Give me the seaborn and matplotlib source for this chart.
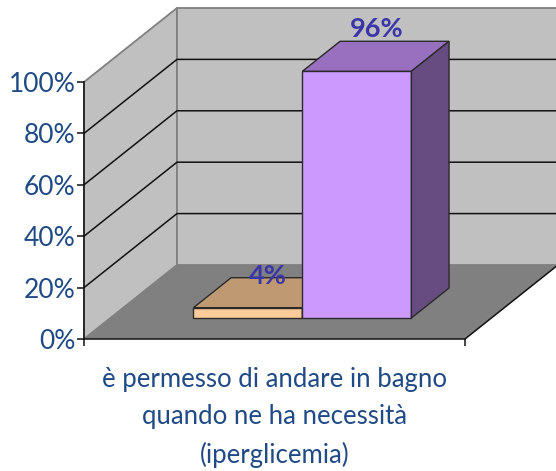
# -*- coding: utf-8 -*-

import matplotlib.pyplot as plt
import pandas as pd
import seaborn as sns
from matplotlib.patches import Polygon

CATEGORY = 'è permesso di andare in bagno\nquando ne ha necessità\n(iperglicemia)'
SERIES = ['no', 'sì']
VALUES = [4, 96]
VALUE_LABELS = ['4%', '96%']
Y_TICKS = [0, 20, 40, 60, 80, 100]

FRONT_COLORS = ['#FFCC99', '#CC99FF']
TOP_COLORS = ['#BF9972', '#9970BF']
SIDE_COLORS = ['#806650', '#664C80']
TEXT_COLOR = '#1F4A85'
LABEL_COLOR = '#3A36A8'
EDGE = '#2A2A2A'

# 3d look, all in data units of the axes
DEPTH_X = 0.244
DEPTH_Y = 28.8
BAR_START = 0.284
BAR_NUDGE = 0.004
BAR_DEPTH = 0.405
LABEL_LIFT = [1, 9]

sns.set_style('white')
plt.rcParams['font.family'] = ['Lato', 'DejaVu Sans']


def add_face(ax, points, color, edge, zorder, lw=1.0):
    ax.add_patch(Polygon(points, closed=True, facecolor=color, edgecolor=edge,
                         lw=lw, zorder=zorder, clip_on=False))


def make_plot():
    df = pd.DataFrame({'category': [CATEGORY] * len(VALUES), 'series': SERIES, 'value': VALUES})

    fig = plt.figure(figsize=(5.56, 4.71), dpi=100)
    ax = fig.add_axes([84 / 556, (471 - 339) / 471, 381 / 556, 257 / 471])
    ax.set_facecolor('none')

    sns.barplot(data=df, x='category', y='value', hue='series', palette=FRONT_COLORS, saturation=1,
                width=0.572, gap=0, legend=False, ax=ax)
    ax.set_xlim(-0.5, 0.5)
    ax.set_ylim(0, 100)

    x0, x1 = -0.5, 0.5
    # walls and floor
    add_face(ax, [(x0, 0), (x0, 100), (x0 + DEPTH_X, 100 + DEPTH_Y), (x0 + DEPTH_X, DEPTH_Y)], '#C0C0C0', '#808080', 0.5, 1.3)
    add_face(ax, [(x0 + DEPTH_X, DEPTH_Y), (x0 + DEPTH_X, 100 + DEPTH_Y), (x1 + DEPTH_X, 100 + DEPTH_Y), (x1 + DEPTH_X, DEPTH_Y)],
             '#C0C0C0', '#808080', 0.5, 1.3)
    add_face(ax, [(x0, 0), (x1, 0), (x1 + DEPTH_X, DEPTH_Y), (x0 + DEPTH_X, DEPTH_Y)], '#808080', 'none', 0.6)
    ax.plot([x1, x1 + DEPTH_X], [0, DEPTH_Y], color='#111111', lw=1.1, zorder=0.7, clip_on=False)

    # gridlines run over the side wall and the back wall
    for tick in Y_TICKS[1:-1]:
        ax.plot([x0, x0 + DEPTH_X, x1 + DEPTH_X], [tick, tick + DEPTH_Y, tick + DEPTH_Y],
                color='#111111', lw=1.1, zorder=0.8, clip_on=False)

    # bars: push the seaborn bars into the floor, then add top and side faces
    dx = DEPTH_X * BAR_START + BAR_NUDGE
    dy = DEPTH_Y * BAR_START
    back_x = DEPTH_X * BAR_DEPTH
    back_y = DEPTH_Y * BAR_DEPTH
    for i, bar in enumerate(ax.patches[:len(VALUES)]):
        bar.set_x(bar.get_x() + dx)
        bar.set_y(dy)
        bar.set_edgecolor(EDGE)
        bar.set_linewidth(1.0)
        bar.set_clip_on(False)
        bar.set_zorder(3 + i)
        left, right = bar.get_x(), bar.get_x() + bar.get_width()
        top = dy + bar.get_height()
        add_face(ax, [(left, top), (right, top), (right + back_x, top + back_y), (left + back_x, top + back_y)],
                 TOP_COLORS[i], EDGE, 3 + i)
        add_face(ax, [(right, dy), (right, top), (right + back_x, top + back_y), (right + back_x, dy + back_y)],
                 SIDE_COLORS[i], EDGE, 3 + i)
        ax.annotate(VALUE_LABELS[i], xy=((left + right + back_x) / 2, top + back_y), xytext=(1, LABEL_LIFT[i]),
                    textcoords='offset points', ha='center', va='center', fontsize=19.5,
                    fontweight='bold', color=LABEL_COLOR, zorder=10, annotation_clip=False)

    sns.despine(ax=ax, top=True, right=True)
    for side in ['left', 'bottom']:
        ax.spines[side].set_color('#111111')
        ax.spines[side].set_linewidth(1.1)
        ax.spines[side].set_zorder(2)

    ax.set_yticks(Y_TICKS)
    ax.set_yticklabels([f'{tick}%' for tick in Y_TICKS])
    ax.tick_params(axis='y', which='major', left=True, length=5, width=1.1, color='#111111',
                   labelsize=19, labelcolor=TEXT_COLOR, pad=1)
    ax.set_xticks([x0, x1])
    ax.set_xticklabels(['', ''])
    ax.tick_params(axis='x', which='major', bottom=True, length=5, width=1.1, color='#111111')
    ax.set_xticks([0], minor=True)
    ax.set_xticklabels([CATEGORY], minor=True, linespacing=1.6)
    ax.tick_params(axis='x', which='minor', bottom=False, length=0, labelsize=18.5,
                   labelcolor=TEXT_COLOR, pad=20)
    ax.set_xlabel('')
    ax.set_ylabel('')

    fig.savefig('out.png', dpi=100)
    plt.close(fig)


if __name__ == '__main__':
    make_plot()
